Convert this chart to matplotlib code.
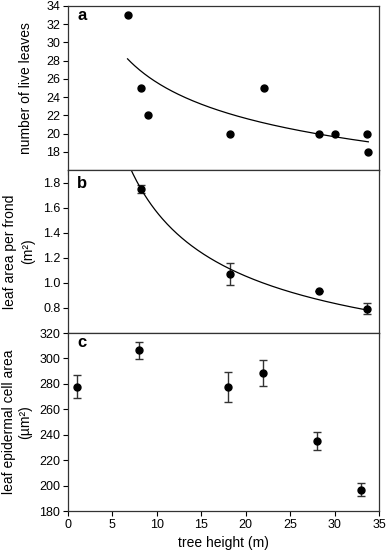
import numpy as np
import matplotlib
matplotlib.use("Agg")
from matplotlib import pyplot as plt

plt.rcParams['font.family'] = ['Liberation Sans', 'DejaVu Sans']

# panel a: number of live leaves
height_a = [6.7, 8.2, 9.0, 18.2, 22.1, 28.2, 30.0, 33.6, 33.8]
leaves_a = [33, 25, 22, 20, 25, 20, 20, 20, 18]
fit_a = (44.6, -0.241)     # y = k * x^p
fit_a_range = (6.7, 33.8)

# panel b: leaf area per frond
height_b = [8.2, 18.2, 28.2, 33.6]
area_b = [1.748, 1.072, 0.931, 0.795]
area_b_err = [0.03, 0.09, 0.0, 0.042]
fit_b = (5.81, -0.57)
fit_b_range = (6.5, 33.8)

# panel c: leaf epidermal cell area
height_c = [1, 8, 18, 22, 28, 33]
cell_c = [277.6, 306.4, 277.3, 288.6, 234.9, 196.9]
cell_c_err = [9.0, 6.5, 11.7, 10.0, 7.3, 5.2]

fig = plt.figure(figsize=(3.86, 5.51), dpi=100)
L, W = 68/386, 311/386
ax_a = fig.add_axes([L, 1 - 170/551, W, 164/551])
ax_b = fig.add_axes([L, 1 - 333/551, W, 163/551])
ax_c = fig.add_axes([L, 1 - 511/551, W, 178/551])

ebkw = dict(fmt='o', color='black', ms=5, ecolor='#333333', elinewidth=1,
            capsize=3, capthick=1)

# a
ax_a.plot(height_a, leaves_a, 'o', color='black', ms=5)
xf = np.linspace(*fit_a_range, 200)
ax_a.plot(xf, fit_a[0] * xf**fit_a[1], color='black', lw=0.9)
ax_a.set_ylim(16, 34)
ax_a.set_yticks(range(18, 35, 2))
ax_a.set_ylabel('number of live leaves', fontsize=10)
ax_a.yaxis.set_label_coords(-0.113, 0.5)

# b
ax_b.errorbar(height_b, area_b, yerr=area_b_err, **ebkw)
xf = np.linspace(*fit_b_range, 200)
ax_b.plot(xf, fit_b[0] * xf**fit_b[1], color='black', lw=0.9)
ax_b.set_ylim(0.6, 1.9)
ax_b.set_yticks([0.8, 1.0, 1.2, 1.4, 1.6, 1.8])
ax_b.set_yticklabels(['0.8', '1.0', '1.2', '1.4', '1.6', '1.8'])
ax_b.set_ylabel('leaf area per frond\n(m\u00b2)', fontsize=10, linespacing=1.35)
ax_b.yaxis.set_label_coords(-0.106, 0.5)

# c
ax_c.errorbar(height_c, cell_c, yerr=cell_c_err, **ebkw)
ax_c.set_ylim(180, 320)
ax_c.set_yticks(range(180, 321, 20))
ax_c.set_ylabel('leaf epidermal cell area\n(\u00b5m\u00b2)', fontsize=10, linespacing=1.15)
ax_c.yaxis.set_label_coords(-0.116, 0.5)
ax_c.set_xlabel('tree height (m)', fontsize=10)

# letter baselines, pixels below each panel's top
letter_off = [(ax_a, 'a', 14.5, 164), (ax_b, 'b', 18, 163), (ax_c, 'c', 14, 178)]
for ax, letter, off, hpx in letter_off:
    ax.set_xlim(0, 35)
    ax.set_xticks(range(0, 36, 5))
    ax.tick_params(direction='out', length=3.5, width=0.8, labelsize=9, pad=2)
    for s in ax.spines.values():
        s.set_linewidth(0.9)
        s.set_color('#333333')
    ax.text(0.03, 1 - off/hpx, letter, transform=ax.transAxes, fontsize=12,
            fontweight='bold', va='baseline', ha='left')
    if ax is not ax_c:
        ax.tick_params(labelbottom=False)

fig.savefig('out.png', dpi=100)
